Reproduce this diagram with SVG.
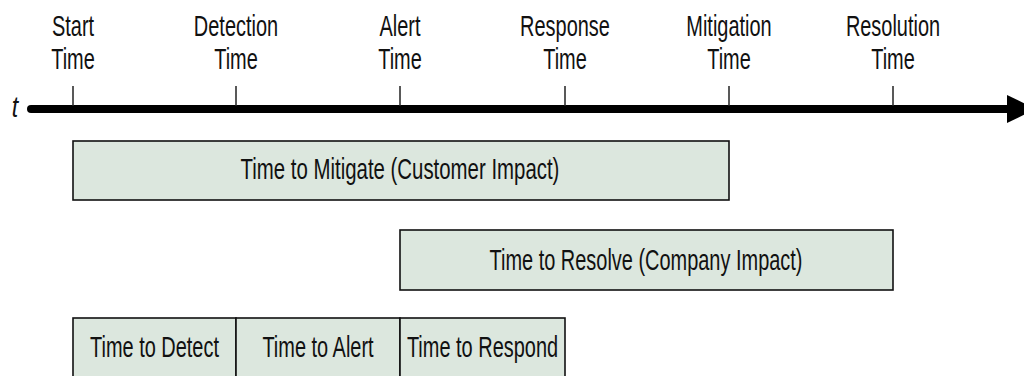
<svg xmlns="http://www.w3.org/2000/svg" width="1024" height="376" viewBox="0 0 1024 376">
  <style>
    .lbl { font-family: "Liberation Sans", Arial, sans-serif; font-size: 30px; fill: #111; text-anchor: middle; }
    .box { fill: #dce7de; stroke: #111; stroke-width: 1.6; }
    .tick { stroke: #222; stroke-width: 1.5; }
  </style>

  <!-- time axis -->
  <g id="axis">
    <g transform="translate(15,0) scale(0.8,1)"><text x="0" y="117" style="font-family:'Liberation Sans',Arial,sans-serif;font-style:italic;font-size:29px;fill:#111;text-anchor:middle">t</text></g>
    <line x1="31" y1="109" x2="1012" y2="109" stroke="#000" stroke-width="8" stroke-linecap="round"/>
    <polygon points="1007,95 1036,109 1007,123" fill="#000"/>
  </g>

  <!-- timeline events: tick + two-line label -->
  <g id="evt-start">
    <line class="tick" x1="73" y1="86" x2="73" y2="106"/>
    <g transform="translate(73,0) scale(0.665,1)"><text class="lbl" x="0" y="36">Start</text><text class="lbl" x="0" y="69">Time</text></g>
  </g>
  <g id="evt-detection">
    <line class="tick" x1="236" y1="86" x2="236" y2="106"/>
    <g transform="translate(236,0) scale(0.665,1)"><text class="lbl" x="0" y="36">Detection</text><text class="lbl" x="0" y="69">Time</text></g>
  </g>
  <g id="evt-alert">
    <line class="tick" x1="400" y1="86" x2="400" y2="106"/>
    <g transform="translate(400,0) scale(0.665,1)"><text class="lbl" x="0" y="36">Alert</text><text class="lbl" x="0" y="69">Time</text></g>
  </g>
  <g id="evt-response">
    <line class="tick" x1="565" y1="86" x2="565" y2="106"/>
    <g transform="translate(565,0) scale(0.665,1)"><text class="lbl" x="0" y="36">Response</text><text class="lbl" x="0" y="69">Time</text></g>
  </g>
  <g id="evt-mitigation">
    <line class="tick" x1="729" y1="86" x2="729" y2="106"/>
    <g transform="translate(729,0) scale(0.665,1)"><text class="lbl" x="0" y="36">Mitigation</text><text class="lbl" x="0" y="69">Time</text></g>
  </g>
  <g id="evt-resolution">
    <line class="tick" x1="893" y1="86" x2="893" y2="106"/>
    <g transform="translate(893,0) scale(0.665,1)"><text class="lbl" x="0" y="36">Resolution</text><text class="lbl" x="0" y="69">Time</text></g>
  </g>

  <!-- interval bars -->
  <g id="ttm">
    <rect class="box" x="73" y="141" width="656" height="59"/>
    <g transform="translate(400,0) scale(0.68,1)"><text class="lbl" x="0" y="179">Time to Mitigate (Customer Impact)</text></g>
  </g>
  <g id="ttr">
    <rect class="box" x="400" y="230" width="493" height="60"/>
    <g transform="translate(646,0) scale(0.665,1)"><text class="lbl" x="0" y="270">Time to Resolve (Company Impact)</text></g>
  </g>
  <g id="ttd">
    <rect class="box" x="73" y="318" width="163" height="80"/>
    <g transform="translate(154.5,0) scale(0.665,1)"><text class="lbl" x="0" y="357">Time to Detect</text></g>
  </g>
  <g id="tta">
    <rect class="box" x="236" y="318" width="164" height="80"/>
    <g transform="translate(318,0) scale(0.665,1)"><text class="lbl" x="0" y="357">Time to Alert</text></g>
  </g>
  <g id="ttresp">
    <rect class="box" x="400" y="318" width="165" height="80"/>
    <g transform="translate(482.5,0) scale(0.665,1)"><text class="lbl" x="0" y="357">Time to Respond</text></g>
  </g>
</svg>
